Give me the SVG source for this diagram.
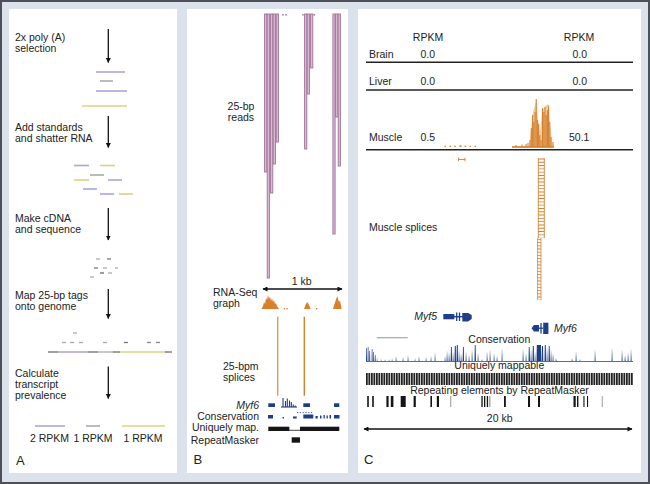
<svg xmlns="http://www.w3.org/2000/svg" width="650" height="484" viewBox="0 0 650 484">
<style>
text{font-family:"Liberation Sans",Arial,sans-serif;font-size:10.5px;fill:#222}
.it{font-style:italic}
.big{font-size:13px}
.mid{text-anchor:middle}
.end{text-anchor:end}
.arr{stroke:#111;stroke-width:1.3;fill:none}
.lav{stroke:#aaa6da;stroke-width:1.6}
.yel{stroke:#e3cd82;stroke-width:1.6}
.gry{stroke:#aaaaaa;stroke-width:1.6}
.read{fill:#dcbcd6;stroke:#9e7196;stroke-width:0.9}
.org{fill:#d8802c}
.blu{fill:#1e3e88}
.blk{fill:#151515}
.rule{stroke:#222;stroke-width:1.4}
</style>
<defs>
<marker id="ah" viewBox="0 0 10 10" refX="9" refY="5" markerWidth="5" markerHeight="6" orient="auto-start-reverse" markerUnits="userSpaceOnUse">
<path d="M0,0 L10,5 L0,10 Z" fill="#111"/>
</marker>
<marker id="ah2" viewBox="0 0 10 10" refX="9" refY="5" markerWidth="6" markerHeight="5" orient="auto-start-reverse" markerUnits="userSpaceOnUse">
<path d="M0,0 L10,5 L0,10 Z" fill="#111"/>
</marker>
<pattern id="um" patternUnits="userSpaceOnUse" x="366" y="373" width="2.5" height="12">
<rect x="0" y="0" width="1.8" height="12" fill="#222"/>
</pattern>
</defs>

<rect x="0" y="0" width="650" height="484" fill="#dce2ec"/>
<rect x="1" y="1" width="648" height="482" fill="none" stroke="#4d5058" stroke-width="2"/>

<!-- Panel A -->
<g id="panelA">
<rect x="9" y="9" width="168" height="464" fill="#fff"/>
<text x="15" y="41">2x poly (A)</text>
<text x="15" y="52">selection</text>
<text x="15" y="130.5">Add standards</text>
<text x="15" y="141.5">and shatter RNA</text>
<text x="15" y="222">Make cDNA</text>
<text x="15" y="233">and sequence</text>
<text x="15" y="299">Map 25-bp tags</text>
<text x="15" y="310">onto genome</text>
<text x="15" y="376.5">Calculate</text>
<text x="15" y="387.5">transcript</text>
<text x="15" y="398.5">prevalence</text>
<text x="49.5" y="441.5" class="mid">2 RPKM</text>
<text x="93" y="441.5" class="mid">1 RPKM</text>
<text x="143" y="441.5" class="mid">1 RPKM</text>
<text x="16" y="464.5" class="big">A</text>
</g>

<g id="fragmentsA">
<line class="lav" x1="96" y1="72" x2="125" y2="72"/>
<line class="gry" x1="100" y1="81" x2="113" y2="81"/>
<line class="lav" x1="96" y1="91" x2="127" y2="91"/>
<line class="yel" x1="82" y1="106" x2="127" y2="106"/>

<line class="lav" x1="74" y1="165.5" x2="89" y2="165.5"/>
<line class="yel" x1="100" y1="165.5" x2="115" y2="165.5"/>
<line class="gry" x1="90" y1="175" x2="104" y2="175"/>
<line class="yel" x1="74" y1="180" x2="89" y2="180"/>
<line class="lav" x1="108" y1="180" x2="122" y2="180"/>
<line class="lav" x1="83" y1="189" x2="97" y2="189"/>
<line class="lav" x1="100" y1="194" x2="114" y2="194"/>
<line class="yel" x1="119" y1="194" x2="133" y2="194"/>

<g stroke-width="1.3">
<line x1="96" y1="259" x2="100" y2="259" stroke="#aaa"/>
<line x1="107" y1="259" x2="111" y2="259" stroke="#777"/>
<line x1="94" y1="268" x2="98" y2="268" stroke="#777"/>
<line x1="103" y1="268" x2="107" y2="268" stroke="#aaa"/>
<line x1="115" y1="268" x2="118" y2="268" stroke="#aaa"/>
<line x1="100" y1="273" x2="104" y2="273" stroke="#666"/>
<line x1="108" y1="273" x2="112" y2="273" stroke="#aaa"/>
<line x1="90" y1="277" x2="94" y2="277" stroke="#aaa"/>

<line x1="73" y1="333" x2="77" y2="333" stroke="#aaa"/>
<line x1="62" y1="342.5" x2="66" y2="342.5" stroke="#aaa"/>
<line x1="70" y1="342.5" x2="74" y2="342.5" stroke="#aaa"/>
<line x1="79" y1="342.5" x2="83" y2="342.5" stroke="#aaa"/>
<line x1="103" y1="342.5" x2="107" y2="342.5" stroke="#aaa"/>
<line x1="124" y1="342.5" x2="128" y2="342.5" stroke="#777"/>
<line x1="147" y1="342.5" x2="151" y2="342.5" stroke="#888"/>
<line x1="156" y1="342.5" x2="160" y2="342.5" stroke="#888"/>
</g>

<line x1="48" y1="352" x2="58" y2="352" stroke="#888" stroke-width="1.6"/>
<line class="lav" x1="58" y1="352" x2="88" y2="352"/>
<line x1="88" y1="352" x2="98" y2="352" stroke="#888" stroke-width="1.6"/>
<line x1="98" y1="352" x2="113" y2="352" stroke="#bbb" stroke-width="1.6"/>
<line x1="113" y1="352" x2="120" y2="352" stroke="#888" stroke-width="1.6"/>
<line class="yel" x1="120" y1="352" x2="165" y2="352"/>
<line x1="165" y1="352" x2="172" y2="352" stroke="#888" stroke-width="1.6"/>

<line class="lav" x1="35" y1="426" x2="65" y2="426"/>
<line class="gry" x1="86" y1="426" x2="100" y2="426"/>
<line class="yel" x1="122" y1="426" x2="165" y2="426"/>
</g>

<g id="connectorsA">
<line class="arr" x1="108.3" y1="29" x2="108.3" y2="62.5" marker-end="url(#ah)"/>
<line class="arr" x1="108.3" y1="116" x2="108.3" y2="147.5" marker-end="url(#ah)"/>
<line class="arr" x1="108.3" y1="208" x2="108.3" y2="240" marker-end="url(#ah)"/>
<line class="arr" x1="108.3" y1="289" x2="108.3" y2="318.5" marker-end="url(#ah)"/>
<line class="arr" x1="108.3" y1="366.5" x2="108.3" y2="398.5" marker-end="url(#ah)"/>
</g>

<!-- Panel B -->
<g id="panelB">
<rect x="187" y="9" width="161" height="464" fill="#fff"/>
<text x="241" y="110" class="mid">25-bp</text>
<text x="241" y="121" class="mid">reads</text>
<text x="301.7" y="285" class="mid">1 kb</text>
<text x="213" y="296">RNA-Seq</text>
<text x="213" y="307">graph</text>
<text x="223" y="369.5">25-bpm</text>
<text x="223" y="380.5">splices</text>
<text x="259" y="408.5" class="end it">Myf6</text>
<text x="259" y="420" class="end">Conservation</text>
<text x="259" y="431" class="end">Uniquely map.</text>
<text x="259" y="443.5" class="end">RepeatMasker</text>
<text x="193.5" y="463.5" class="big">B</text>
</g>

<g id="readsB">
<rect class="read" x="264.6" y="14" width="2.2" height="158"/>
<rect class="read" x="267.2" y="14" width="2.2" height="264"/>
<rect class="read" x="270.6" y="14" width="2.2" height="179"/>
<rect class="read" x="273.2" y="14" width="2.2" height="150"/>
<rect class="read" x="276.2" y="14" width="2.2" height="128"/>
<rect x="282.3" y="14" width="1.4" height="1.6" fill="#9e7196"/>
<rect x="285.3" y="14" width="1.4" height="1.6" fill="#9e7196"/>
<rect class="read" x="304.6" y="14" width="2.2" height="135"/>
<rect class="read" x="307.2" y="14" width="2.2" height="80"/>
<rect class="read" x="310.6" y="14" width="2.2" height="54"/>
<rect x="302.3" y="14" width="1.4" height="1.6" fill="#9e7196"/>
<rect x="313.6" y="14" width="1.4" height="1.6" fill="#9e7196"/>
<rect class="read" x="332.9" y="14" width="2.2" height="220"/>
<rect class="read" x="335.6" y="14" width="2.2" height="103"/>
<rect class="read" x="338.2" y="14" width="2.2" height="152"/>
</g>

<g id="rnaseqB">
<path class="org" d="M261.5,309 L263,306 L264,302 L265,304 L266,298 L267,300 L268,295 L269,299 L270,296.5 L271,301 L272,298 L273,302 L274,300 L275,304 L276,303 L277,306 L279,309 Z"/>
<rect class="org" x="283.8" y="308" width="1.3" height="1.3"/>
<rect class="org" x="286.5" y="308" width="1.3" height="1.3"/>
<path class="org" d="M304,309 L305.5,305 L307,302 L308.5,304 L309.5,306 L310.5,309 Z"/>
<rect class="org" x="316" y="308" width="1.3" height="1.3"/>
<path class="org" d="M333,309 L334.5,304 L335.5,301 L336.5,298 L337.3,296 L338,299 L339,302 L340,300.5 L341.7,309 Z"/>
<rect x="277" y="316.7" width="1.4" height="79" fill="#dd9a5c"/>
<rect x="303.6" y="316.7" width="1.4" height="79" fill="#d8802c"/>
</g>

<g id="tracksB">
<rect class="blu" x="268.3" y="403.3" width="6.7" height="3.7"/>
<rect class="blu" x="303.3" y="403.3" width="6.7" height="3.7"/>
<rect class="blu" x="334" y="403.3" width="5.3" height="3.7"/>
<g stroke="#1e3e88" stroke-width="1.1">
<line x1="281" y1="407" x2="297" y2="407"/>
<line x1="283" y1="407" x2="283" y2="398"/>
<line x1="285.5" y1="407" x2="285.5" y2="401"/>
<line x1="287.3" y1="407" x2="287.3" y2="398.5"/>
<line x1="289.5" y1="407" x2="289.5" y2="400.5"/>
<line x1="291.3" y1="407" x2="291.3" y2="402"/>
<line x1="293.2" y1="407" x2="293.2" y2="404.5"/>
<line x1="295.2" y1="407" x2="295.2" y2="405.5"/>
<line x1="297" y1="412.6" x2="313" y2="412.6" stroke-dasharray="1.2 1.6" stroke-width="0.9"/>
</g>
<rect class="blu" x="268" y="415" width="5" height="3.5"/>
<rect class="blu" x="282.5" y="417" width="1.5" height="1.5"/>
<rect class="blu" x="293" y="416.5" width="3.7" height="2"/>
<rect class="blu" x="303.3" y="414.5" width="10" height="4"/>
<rect class="blu" x="315.5" y="416" width="2.2" height="2.5"/>
<rect class="blu" x="320" y="415.5" width="1.5" height="3"/>
<rect class="blu" x="323.5" y="415" width="1.3" height="3.5"/>
<rect class="blu" x="326.5" y="415.5" width="1.3" height="3"/>
<rect class="blu" x="329.5" y="415" width="1.5" height="3.5"/>
<rect class="blu" x="334" y="415" width="5.5" height="3.5"/>
<rect class="blk" x="268.3" y="426.7" width="21" height="4.3"/>
<rect class="blk" x="300" y="426.7" width="39.3" height="4.3"/>
<line x1="289" y1="430.3" x2="300.5" y2="430.3" stroke="#151515" stroke-width="0.8"/>
<rect class="blk" x="291.7" y="437.3" width="8.3" height="5.4"/>
</g>

<g id="scaleB">
<line x1="263" y1="289" x2="342" y2="289" stroke="#111" stroke-width="1.3" marker-start="url(#ah2)" marker-end="url(#ah2)"/>
</g>

<!-- Panel C -->
<g id="panelC">
<rect x="358" y="9" width="283" height="464" fill="#fff"/>
<text x="428" y="40.5" class="mid">RPKM</text>
<text x="579" y="40.5" class="mid">RPKM</text>
<text x="369" y="57.5">Brain</text>
<text x="420.5" y="57.5">0.0</text>
<text x="572.5" y="57.5">0.0</text>
<text x="369" y="84.5">Liver</text>
<text x="420.5" y="84.5">0.0</text>
<text x="572.5" y="84.5">0.0</text>
<text x="369" y="141">Muscle</text>
<text x="420.5" y="141">0.5</text>
<text x="569" y="141">50.1</text>
<text x="369" y="231">Muscle splices</text>
<text x="437" y="320" class="end it">Myf5</text>
<text x="554" y="332" class="it">Myf6</text>
<text x="499.3" y="343" class="mid">Conservation</text>
<text x="499.3" y="369" class="mid">Uniquely mappable</text>
<text x="499.5" y="393.5" class="mid">Repeating elements by RepeatMasker</text>
<text x="499.7" y="421.5" class="mid">20 kb</text>
<text x="364" y="463.5" class="big">C</text>
<line class="rule" x1="366" y1="62.3" x2="633" y2="62.3"/>
<line class="rule" x1="366" y1="90" x2="633" y2="90"/>
<line class="rule" x1="366" y1="149.7" x2="633" y2="149.7"/>
</g>

<g id="muscleC">
<path d="M529,147 L531,130 L533,112 L535,105 L536.5,100 L538,118 L540,132 L542,112 L545,106 L548,104 L550,125 L552,140 L553,147 Z" fill="#ecd0ad"/>
<g stroke="#d8802c" stroke-width="1.1">
<line x1="512" y1="147" x2="529" y2="147" stroke-width="1.6"/>
<line x1="516" y1="147" x2="516" y2="145"/>
<line x1="522" y1="147" x2="522" y2="144.5"/>
<line x1="526" y1="147" x2="526" y2="144"/>
<line x1="528" y1="147" x2="528" y2="143"/>
<line x1="530" y1="147" x2="530" y2="140"/>
<line x1="531.3" y1="147" x2="531.3" y2="128"/>
<line x1="532.6" y1="147" x2="532.6" y2="115"/>
<line x1="533.8" y1="147" x2="533.8" y2="122"/>
<line x1="535" y1="147" x2="535" y2="112"/>
<line x1="536.2" y1="147" x2="536.2" y2="99"/>
<line x1="537.4" y1="147" x2="537.4" y2="120"/>
<line x1="538.6" y1="147" x2="538.6" y2="124"/>
<line x1="539.8" y1="147" x2="539.8" y2="135"/>
<line x1="541" y1="147" x2="541" y2="140"/>
<line x1="542.5" y1="147" x2="542.5" y2="108"/>
<line x1="543.8" y1="147" x2="543.8" y2="112"/>
<line x1="545" y1="147" x2="545" y2="107"/>
<line x1="546.2" y1="147" x2="546.2" y2="115"/>
<line x1="547.4" y1="147" x2="547.4" y2="110"/>
<line x1="548.6" y1="147" x2="548.6" y2="105.5"/>
<line x1="549.8" y1="147" x2="549.8" y2="122"/>
<line x1="551" y1="147" x2="551" y2="137"/>
<line x1="553" y1="147" x2="553" y2="142"/>
<line x1="529" y1="147" x2="554" y2="147" stroke-width="1.6"/>
</g>
<g class="org">
<rect x="444.5" y="145.7" width="1.4" height="1.3"/>
<rect x="449.5" y="145.7" width="1.4" height="1.3"/>
<rect x="454.5" y="145.7" width="1.4" height="1.3"/>
<rect x="459.5" y="145.3" width="2" height="1.7"/>
<rect x="464.5" y="145.7" width="1.4" height="1.3"/>
<rect x="469.5" y="145.7" width="1.4" height="1.3"/>
<rect x="474.5" y="145.7" width="1.4" height="1.3"/>
</g>
</g>

<g id="splicesC" stroke="#d8802c" fill="none">
<path d="M458.5,159.5 H465 M458.5,157.7 V161.3 M465,157.7 V161.3" stroke-width="0.9"/>
<line x1="538.3" y1="158" x2="538.3" y2="238" stroke-width="0.9"/>
<line x1="544.3" y1="158" x2="544.3" y2="238" stroke-width="0.9"/>
<line x1="541.3" y1="158.5" x2="541.3" y2="238" stroke-width="6" stroke-dasharray="0.9 2.4"/>
<line x1="537.6" y1="238" x2="537.6" y2="300" stroke-width="0.8"/>
<line x1="541" y1="238" x2="541" y2="300" stroke-width="0.8"/>
<line x1="539.3" y1="239" x2="539.3" y2="300" stroke-width="3.4" stroke-dasharray="0.8 2.4"/>
</g>

<g id="genesC">
<rect class="blu" x="443.3" y="314" width="11" height="5.3"/>
<line x1="454" y1="316.7" x2="463" y2="316.7" stroke="#1e3e88" stroke-width="1.4"/>
<line x1="456.7" y1="312.5" x2="456.7" y2="321" stroke="#1e3e88" stroke-width="1.3"/>
<line x1="459.5" y1="312.5" x2="459.5" y2="321" stroke="#1e3e88" stroke-width="1.3"/>
<path class="blu" d="M462.3,313 H468 L471.7,315 V319 L468,321.5 H462.3 Z"/>
<path class="blu" d="M531.5,328.2 L534,325 H539 V331.5 H534 Z"/>
<line x1="539" y1="328.2" x2="543" y2="328.2" stroke="#1e3e88" stroke-width="1.3"/>
<line x1="541" y1="323" x2="541" y2="333.5" stroke="#1e3e88" stroke-width="1.3"/>
<rect class="blu" x="543.2" y="322.7" width="5.2" height="11.3"/>
<line x1="376.7" y1="337.7" x2="407.7" y2="337.7" stroke="#9ea7bf" stroke-width="1.2"/>
</g>

<g id="conservationC">
<path class="blu" d="M366,361 L366.2,348 L366.8,348 L367,361 L367.6,361 L367.8,347 L368.4,347 L368.6,361 L369.2,361 L369.4,351 L370,351 L370.2,361 L371.6,361 L371.8,349 L372.4,349 L372.6,361 L373.2,361 L373.4,352 L374,352 L374.2,361 L374.8,361 L375,355 L375.5,355 L375.7,361 L376.8,361 L377,357 L377.4,361 L380.8,361 L381,359 L381.4,361 L384.8,361 L385,359 L385.4,361 L388.8,361 L389,359 L389.4,361 L391.8,361 L392,358 L392.4,361 L395.6,361 L396,356 L396.5,361 L402.6,361 L403,357 L403.5,361 L407.6,361 L408,355 L408.5,361 L414.7,361 L415,358 L415.4,361 L418.6,361 L419,356 L419.5,361 L425.6,361 L426,357 L426.5,361 L430.6,361 L431,356 L431.5,361 L434.6,361 L435,352 L435.5,361 L444.6,361 L445,356 L445.5,361 L446.6,361 L447,350 L447.6,361 L448.6,361 L449,352 L449.6,361 L450.6,361 L451,347 L451.8,347 L452,361 L452.6,361 L453,351 L453.6,361 L454.5,361 L454.8,346 L455.8,346 L456,361 L456.5,361 L456.8,345 L457.8,345 L458,361 L458.6,361 L459,349 L459.6,361 L460.6,361 L461,353 L461.6,361 L462.6,361 L463,347 L463.8,347 L464,361 L465.6,361 L466,351 L466.6,361 L468.6,361 L469,355 L469.6,361 L471.6,361 L472,349 L472.6,361 L474.5,361 L474.8,345 L475.6,345 L476,361 L477.6,361 L478,353 L478.6,361 L481.6,361 L482,359 L482.4,361 L486.6,361 L487,351 L487.6,361 L489.6,361 L490,349 L490.6,361 L493.6,361 L494,353 L494.6,361 L496.6,361 L497,356 L497.6,361 L501.6,361 L502,348 L502.6,361 L522.6,361 L523,348 L523.6,361 L525.6,361 L526,353 L526.6,361 L528.5,361 L528.8,347 L529.6,347 L530,361 L530.6,361 L531,349 L531.6,361 L532.5,361 L532.8,346 L533.8,346 L534,361 L534.6,361 L535,351 L535.6,361 L536.5,361 L536.8,345 L541,345 L541.4,361 L541.8,361 L542,346 L543,346 L543.3,361 L544.5,361 L544.8,345 L545.8,345 L546,361 L546.6,361 L547,347 L547.6,361 L548.5,361 L548.8,346 L549.6,346 L550,361 L550.6,361 L551,349 L551.6,361 L552.6,361 L553,353 L553.6,361 L555.6,361 L556,358 L556.5,361 L571.6,361 L572,358 L572.5,361 L575.6,361 L576,351 L576.6,361 L579.6,361 L580,359 L580.4,361 L594.6,361 L595,349 L595.6,361 L611.6,361 L612,347 L612.6,361 L621.6,361 L622,349 L622.6,361 L624.6,361 L625,355 L625.6,361 L627.6,361 L628,352 L628.6,361 L630.6,361 L631,348 L631.6,361 L633,361 L633,361.8 L366,361.8 Z"/>
</g>

<g id="mappableC">
<rect x="366" y="373" width="267" height="12" fill="url(#um)"/>
</g>

<g id="repeatsC" class="blk">
<rect x="367.2" y="396" width="1.6" height="11"/>
<rect x="372.2" y="396" width="1.6" height="11"/>
<rect x="386.4" y="396" width="2.2" height="11"/>
<rect x="390.8" y="396" width="2.6" height="11"/>
<rect x="400.7" y="396" width="5" height="11"/>
<rect x="413.6" y="396" width="2.2" height="11"/>
<rect x="430.4" y="396" width="1.6" height="11"/>
<rect x="436.8" y="396" width="2.2" height="11"/>
<rect x="450.4" y="396" width="0.8" height="11" fill="#777"/>
<rect x="481.4" y="396" width="1.3" height="11"/>
<rect x="484" y="396" width="1.3" height="11"/>
<rect x="486.8" y="396" width="1.3" height="11"/>
<rect x="489.4" y="396" width="0.9" height="11" fill="#777"/>
<rect x="504" y="396" width="1.8" height="11"/>
<rect x="528" y="396" width="2" height="11"/>
<rect x="538" y="396" width="2" height="11"/>
<rect x="573.5" y="396" width="2.2" height="11"/>
<rect x="577" y="396" width="1.4" height="11"/>
<rect x="583.4" y="396" width="1.1" height="11"/>
<rect x="587" y="396" width="1.1" height="11"/>
<rect x="601.8" y="396" width="0.8" height="11" fill="#888"/>
</g>

<g id="scaleC">
<line x1="364" y1="429" x2="632" y2="429" stroke="#111" stroke-width="1.3" marker-start="url(#ah2)" marker-end="url(#ah2)"/>
</g>
</svg>
